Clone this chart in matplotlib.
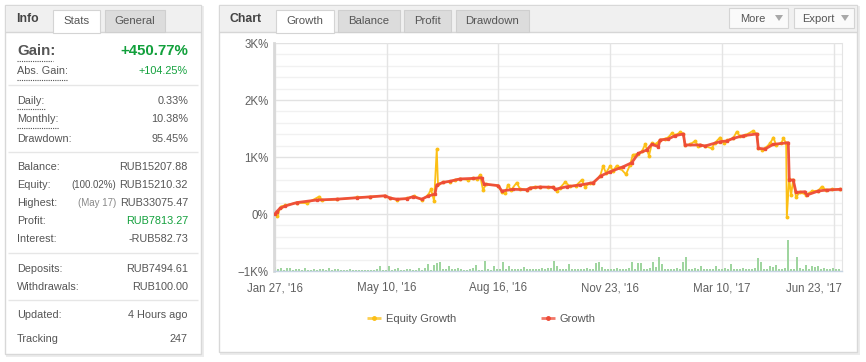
import matplotlib
matplotlib.use("Agg")
import matplotlib.pyplot as plt
from matplotlib.patches import Rectangle, Polygon
import numpy as np

W, H = 866, 362

# ---------------- data ----------------
x_tick_labels = ["Jan 27, '16", "May 10, '16", "Aug 16, '16", "Nov 23, '16", "Mar 10, '17", "Jun 23, '17"]
x_tick_pos = [0, 100, 200, 300, 400, 500]
y_tick_vals = [-1000, 0, 1000, 2000, 3000]
y_tick_labels = ["\u22121K%", "0%", "1K%", "2K%", "3K%"]

growth_x = [0, 1.5, 4.5, 9.0, 19.4, 37.3, 55.2, 73.1, 85.1, 98.5, 103.0, 109.0, 118.0, 123.8, 131.3,
            137.2, 143.2, 144.8, 150.7, 156.7, 165.6, 177.5, 185.1, 187.1, 199.9, 203.0, 213.3, 225.3,
            228.3, 237.3, 249.2, 250.7, 261.2, 273.1, 285.0, 291.4, 300.0, 311.8, 319.4, 325.3, 332.8,
            337.3, 343.2, 344.7, 352.1, 358.1, 365.6, 367.1, 380.5, 385.0, 398.4, 404.4, 410.3, 419.3,
            431.3, 432.7, 438.7, 446.1, 459.5, 460.4, 464.0, 466.4, 474.5, 476.1, 486.5, 494.0, 505.8]
growth_y = [0, 40, 100, 140, 200, 245, 260, 285, 300, 320, 280, 260, 270, 305, 260,
            315, 350, 510, 555, 575, 615, 625, 637, 527, 497, 404, 433, 427,
            456, 474, 468, 433, 479, 509, 550, 667, 742, 830, 900, 1064, 1123,
            1222, 1181, 1298, 1316, 1374, 1404, 1211, 1211, 1193, 1269, 1281, 1328, 1374,
            1404, 1153, 1140, 1222, 1251, 596, 596, 380, 391, 333, 404, 421, 433]

equity_x = [0, 2.1, 5.1, 9.0, 19.7, 28.6, 39.4, 42.1, 55.5, 73.4, 85.1, 98.5, 103.0, 109.3, 118.2,
            124.5, 131.6, 137.0, 139.7, 142.4, 144.8, 145.9, 150.4, 156.7, 161.2, 165.6, 172.8, 177.3,
            180.8, 183.5, 186.2, 188.9, 199.7, 203.2, 205.9, 208.6, 211.3, 216.4, 219.3, 225.6, 228.3,
            232.8, 237.3, 244.4, 248.9, 252.2, 255.2, 259.6, 264.1, 269.5, 274.6, 277.5, 282.0, 284.7,
            291.0, 293.7, 296.3, 300.0, 302.6, 305.9, 308.8, 314.2, 317.8, 320.3, 325.0, 328.6, 331.3,
            334.8, 337.5, 341.1, 344.7, 349.2, 351.8, 355.2, 358.1, 362.6, 365.3, 367.1, 371.5, 376.0,
            378.7, 380.5, 385.0, 391.0, 393.9, 398.4, 402.0, 404.7, 410.1, 413.4, 416.4, 420.9, 427.7,
            431.6, 432.7, 436.1, 438.7, 443.2, 446.2, 448.6, 453.1, 455.2, 457.6, 458.2, 460.3, 462.1,
            463.8, 466.4, 470.0, 475.4, 480.8, 486.2, 489.5, 493.3, 498.7, 505.8]
equity_y = [0, -35, 128, 150, 200, 190, 305, 240, 255, 290, 305, 320, 280, 250, 275,
            315, 250, 330, 433, 228, 1135, 520, 560, 570, 600, 620, 600, 630,
            610, 684, 421, 520, 500, 380, 363, 509, 420, 550, 440, 427, 460,
            480, 474, 470, 465, 404, 460, 556, 490, 500, 596, 479, 540, 550,
            660, 842, 720, 842, 760, 847, 810, 696, 860, 1035, 1060, 1100, 1222,
            1023, 1240, 1230, 1300, 1320, 1340, 1415, 1380, 1430, 1410, 1210, 1220, 1281,
            1200, 1215, 1190, 1153, 1250, 1342, 1240, 1290, 1330, 1444, 1360, 1380, 1456,
            1400, 1150, 1130, 1150, 1240, 1342, 1210, 1240, 1328, 1240, -58, 620, 330,
            600, 300, 380, 340, 400, 410, 479, 420, 430, 433]

volume = [70, 30, 55, 20, 50, 45, 20, 40, 35, 20, 45, 20, 25, 40, 20, 35, 30, 20, 45, 20,
          30, 40, 20, 25, 20, 30, 20, 20, 20, 25, 20, 20, 20, 20, 40, 90, 20, 20, 85, 25,
          40, 50, 20, 25, 40, 35, 20, 20, 45, 25, 50, 120, 25, 105, 140, 160, 30, 35, 85, 30,
          40, 45, 40, 20, 20, 30, 45, 105, 20, 25, 175, 30, 25, 85, 40, 30, 160, 35, 85, 40,
          35, 40, 35, 70, 40, 35, 40, 35, 40, 45, 35, 45, 45, 175, 85, 40, 35, 40, 120, 30,
          40, 35, 40, 30, 45, 35, 30, 140, 160, 70, 35, 40, 40, 35, 45, 40, 35, 30, 45, 160,
          40, 140, 140, 35, 40, 45, 160, 70, 245, 120, 40, 35, 30, 40, 60, 35, 160, 245, 35, 40,
          45, 35, 85, 40, 30, 40, 35, 85, 40, 35, 45, 40, 120, 35, 40, 40, 45, 35, 30, 40,
          45, 230, 160, 40, 35, 85, 70, 105, 40, 35, 45, 545, 40, 35, 245, 45, 40, 105, 40, 85,
          70, 85, 40, 45, 35, 40, 45, 40, 35]

stat_labels = ["Gain:", "Abs. Gain:", "Daily:", "Monthly:", "Drawdown:", "Balance:", "Equity:",
               "Highest:", "Profit:", "Interest:", "Deposits:", "Withdrawals:", "Updated:", "Tracking"]
stat_values = ["+450.77%", "+104.25%", "0.33%", "10.38%", "95.45%", "RUB15207.88", "RUB15210.32",
               "RUB33075.47", "RUB7813.27", "-RUB582.73", "RUB7494.61", "RUB100.00", "4 Hours ago", "247"]
stat_notes = {"Equity:": "(100.02%)", "Highest:": "(May 17)"}
left_tabs = ["Stats", "General"]
chart_tabs = ["Growth", "Balance", "Profit", "Drawdown"]
series_names = ["Equity Growth", "Growth"]

# ---------------- style ----------------
FONT = "Liberation Sans"
plt.rcParams['font.family'] = [FONT, 'DejaVu Sans']
TXT = "#555555"
GREEN = "#12a03c"
RED = "#ee4b37"
YEL = "#fcbf16"
BAR = "#9fd59f"

fig = plt.figure(figsize=(W / 100, H / 100), dpi=100)
fig.patch.set_facecolor("white")
bg = fig.add_axes([0, 0, 1, 1])
bg.set_xlim(0, W)
bg.set_ylim(H, 0)
bg.axis("off")


def rect(x0, y0, x1, y1, fc, ec="none", lw=1, z=1):
    bg.add_patch(Rectangle((x0, y0), x1 - x0, y1 - y0, facecolor=fc, edgecolor=ec, linewidth=lw, zorder=z))


def hline(x0, x1, y, c, lw=1, ls="-", z=3):
    bg.plot([x0, x1], [y, y], color=c, lw=lw, ls=ls, zorder=z, solid_capstyle="butt")


# panels with shadows
for (x0, y0, x1, y1) in [(5, 5, 201, 354), (219, 5, 857, 352)]:
    rect(x0 + 1, y0 + 1, x1 + 3, y1 + 3, "#ececec", z=0.5)
    rect(x0, y0, x1, y1, "white", "#d8d8d8", 1, z=1)
    rect(x0 + 0.5, y0 + 0.5, x1 - 0.5, 32, "#f0f0f0", z=1.5)
    hline(x0, x1, 32, "#d6d6d6", 1, z=2)

# left panel header
bg.text(16, 19.5, "Info", fontsize=8.8, fontweight="bold", color="#444444", va="center", ha="left", zorder=5)
rect(53, 10, 100, 32.6, "white", "#d4d4d4", 0.8, z=3)
rect(105, 10, 165, 31.5, "#dcdcdc", "#cfcfcf", 0.8, z=3)
bg.text(76.5, 21, left_tabs[0], fontsize=8.2, color=TXT, ha="center", va="center", zorder=5)
bg.text(135, 21, left_tabs[1], fontsize=8.2, color=TXT, ha="center", va="center", zorder=5)

# stats rows (baseline positions in px)
row_base = [55, 74.5, 103.5, 122.5, 141.5, 170.5, 188.5, 206.5, 224.5, 242.5, 271.5, 289.5, 318.5, 341.5]
fig.canvas.draw()
for lab, val, yb in zip(stat_labels, stat_values, row_base):
    if lab == "Gain:":
        bg.text(17, yb, lab, fontsize=10.8, fontweight="bold", color=TXT, ha="left", va="baseline", zorder=5)
        bg.text(188, yb, val, fontsize=10.8, fontweight="bold", color=GREEN, ha="right", va="baseline", zorder=5)
        continue
    bg.text(17, yb, lab, fontsize=7.8, color=TXT, ha="left", va="baseline", zorder=5)
    col = GREEN if lab in ("Abs. Gain:", "Profit:") else TXT
    t = bg.text(188, yb, val, fontsize=7.8, color=col, ha="right", va="baseline", zorder=5)
    if lab in stat_notes:
        bb = t.get_window_extent(renderer=fig.canvas.get_renderer())
        xl = bb.x0 - 3
        bg.text(xl, yb, stat_notes[lab], fontsize=7.0, color="#888888" if lab == "Highest:" else TXT,
                ha="right", va="baseline", zorder=5)

# dotted underlines
for (x1, yy) in [(53, 60.5), (67, 79.5), (45, 108.5), (59, 127.5)]:
    hline(17, x1, yy, "#555555", 0.8, ls=(0, (1, 1)), z=5)
# separators
for yy in [84.5, 151.5, 252.5, 299.5]:
    hline(8, 198, yy, "#e6e6e6", 1, z=2)

# chart panel header
bg.text(230, 19.5, "Chart", fontsize=8.8, fontweight="bold", color="#444444", va="center", ha="left", zorder=5)
tab_boxes = [(276, 334), (338, 400), (404, 451), (456, 529)]
for i, (name, (a, b)) in enumerate(zip(chart_tabs, tab_boxes)):
    if i == 0:
        rect(a, 10, b, 32.6, "white", "#d4d4d4", 0.8, z=3)
    else:
        rect(a, 10, b, 31.5, "#dcdcdc", "#cfcfcf", 0.8, z=3)
    bg.text((a + b) / 2, 21, name, fontsize=8.2, color=TXT, ha="center", va="center", zorder=5)

for (a, b, name) in [(729, 788, "More"), (794, 854, "Export")]:
    rect(a, 8, b, 28, "#fafafa", "#d4d4d4", 0.8, z=3)
    bg.text(a + (b - a) * 0.4, 18.5, name, fontsize=8.0, color=TXT, ha="center", va="center", zorder=5)
    tx = b - 9
    bg.add_patch(Polygon([[tx - 4, 15], [tx + 4, 15], [tx, 21]], closed=True, facecolor="#a8a8a8",
                         edgecolor="none", zorder=5))

# legend
for (x0, tx, col, name) in [(367, 386, YEL, series_names[0]), (541, 559, RED, series_names[1])]:
    bg.plot([x0, x0 + 14], [318, 318], color=col, lw=2, alpha=0.75, zorder=5, solid_capstyle="butt")
    bg.plot([x0 + 7], [318], marker="o", ms=2.5, color=col, zorder=6)
    bg.text(tx, 318.5, name, fontsize=8.0, color=TXT, ha="left", va="center", zorder=5)

# ---------------- chart axes ----------------
L, R, T, B = 274, 842, 43, 271
ax = fig.add_axes([L / W, 1 - B / H, (R - L) / W, (B - T) / H])
ax.set_facecolor("none")
ax.set_xlim(-0.9, 507.6)
ax.set_ylim(-1000, 3000)

for v in np.arange(-1000, 3001, 200):
    major = (v % 1000 == 0)
    ax.axhline(v, color="#e2e2e2" if major else "#f1f1f1", lw=1.0, zorder=0)
for xp in x_tick_pos:
    ax.axvline(xp, color="#e4e4e4", lw=1.0, zorder=0)

vol_x = np.arange(len(volume)) * 2.686
ax.bar(vol_x, volume, bottom=-1000, width=1.25, color=BAR, zorder=1, linewidth=0)

ax.plot(equity_x, equity_y, color=YEL, lw=1.3, marker="o", ms=1.8, zorder=2)
ax.plot(growth_x, growth_y, color=RED, lw=2.0, marker="s", ms=1.8, alpha=0.95, zorder=3)

ax.set_yticks(y_tick_vals)
ax.set_yticklabels(y_tick_labels, fontsize=8.3, color="#606060")
ax.set_xticks(x_tick_pos)
# last label is justified to end at the plot's right edge (drawn separately below)
ax.set_xticklabels(x_tick_labels[:-1] + [""], fontsize=8.3, color="#606060")
ax.text(1.0, -11.1 / (B - T), x_tick_labels[-1], transform=ax.transAxes, ha="right", va="top",
        fontsize=8.3, color="#606060")
ax.tick_params(axis="both", length=0)
ax.tick_params(axis="y", pad=4)
ax.tick_params(axis="x", pad=8)
ax.spines["top"].set_visible(False)
ax.spines["left"].set_color("#d9d9d9")
ax.spines["left"].set_linewidth(2)
ax.spines["right"].set_color("#e4e4e4")
ax.spines["bottom"].set_color("#c6d4e2")
ax.spines["bottom"].set_linewidth(1)

fig.savefig("out.png", dpi=100, facecolor="white")
